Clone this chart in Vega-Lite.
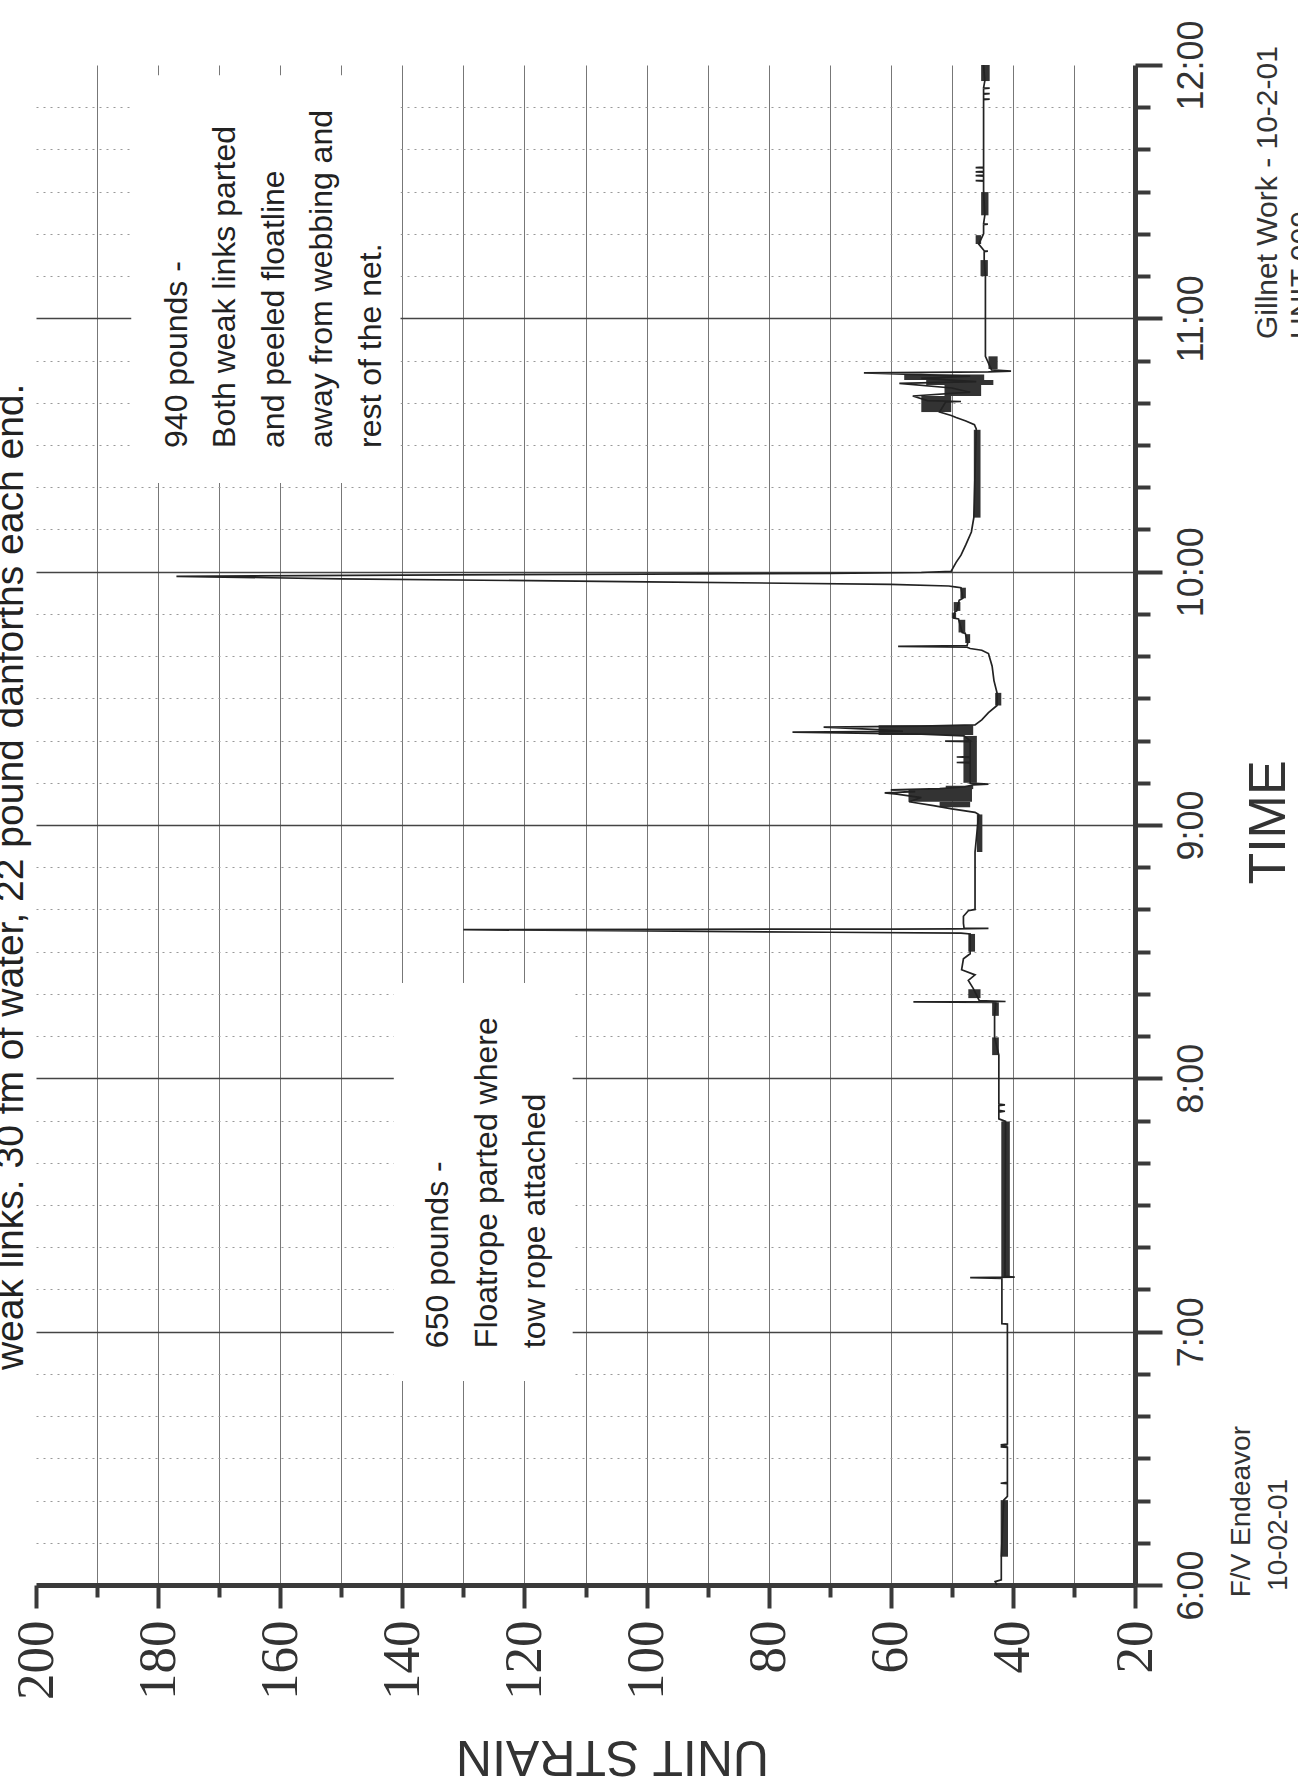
{
  "$schema": "https://vega.github.io/schema/vega-lite/v6.json",
  "width": 1099,
  "height": 1520,
  "autosize": {"type": "none"},
  "padding": {"left": 36, "top": 65, "right": 163, "bottom": 203},
  "background": "white",
  "config": {"view": {"stroke": null}, "font": "Liberation Sans"},
  "datasets": {
    "trace": [
      {"t":0,"s":42.6},{"t":0.8,"s":42.9},{"t":1.2,"s":41.9},{"t":6.7,"s":41.9},{"t":20.1,"s":41.5},{"t":21,"s":40.9},{"t":24,"s":40.9},{"t":24.1,"s":42.0},{"t":24.3,"s":40.9},{"t":32.6,"s":40.9},{"t":32.7,"s":42.0},{"t":32.9,"s":40.9},{"t":33.2,"s":42.0},{"t":33.4,"s":40.9},{"t":59.5,"s":40.9},{"t":61.8,"s":40.9},{"t":61.9,"s":41.8},{"t":72.4,"s":41.8},{"t":72.6,"s":41.8},{"t":72.8,"s":47.0},{"t":72.9,"s":39.7},{"t":73.1,"s":41.3},{"t":109.8,"s":41.2},{"t":110.4,"s":42.3},{"t":112.0,"s":42.3},{"t":112.2,"s":41.3},{"t":112.4,"s":42.3},{"t":113.5,"s":42.3},{"t":113.7,"s":41.3},{"t":113.9,"s":42.3},{"t":125.5,"s":42.3},{"t":129.7,"s":43.0},{"t":134.8,"s":43.0},{"t":138.0,"s":42.8},{"t":138.1,"s":56.3},{"t":138.2,"s":41.2},{"t":138.4,"s":45.5},{"t":141.3,"s":46.5},{"t":143.2,"s":47.3},{"t":144.5,"s":46.2},{"t":145.7,"s":48.4},{"t":148.3,"s":48.1},{"t":149.5,"s":47.0},{"t":154.2,"s":47.0},{"t":154.4,"s":48.5},{"t":154.6,"s":70},{"t":154.9,"s":100},{"t":155.2,"s":130},{"t":155.3,"s":95},{"t":155.35,"s":60},{"t":155.4,"s":49.5},{"t":155.5,"s":44.0},{"t":155.6,"s":48.0},{"t":156.7,"s":48.1},{"t":158.4,"s":48.1},{"t":159.7,"s":47.3},{"t":160.0,"s":46.2},{"t":173.6,"s":46.2},{"t":182.5,"s":45.6},{"t":183.0,"s":46.2},{"t":183.8,"s":50.0},{"t":184.6,"s":53},{"t":185.5,"s":57},{"t":186.5,"s":55},{"t":187.3,"s":59},{"t":187.6,"s":61.0},{"t":187.9,"s":56},{"t":188.3,"s":60},{"t":188.6,"s":52},{"t":189.0,"s":48},{"t":189.5,"s":46.5},{"t":189.7,"s":44.0},{"t":189.9,"s":47},{"t":194.7,"s":47},{"t":194.8,"s":49.2},{"t":194.9,"s":47},{"t":196.0,"s":47},{"t":196.1,"s":49.2},{"t":196.2,"s":47},{"t":199.75,"s":47},{"t":199.85,"s":51.1},{"t":199.95,"s":47},{"t":201.1,"s":48},{"t":201.5,"s":55},{"t":202.0,"s":76.1},{"t":202.2,"s":58},{"t":202.6,"s":62},{"t":203.2,"s":71.0},{"t":203.4,"s":55},{"t":203.7,"s":46.2},{"t":204.9,"s":45.1},{"t":206.6,"s":44.0},{"t":208.3,"s":42.6},{"t":211.3,"s":42.6},{"t":214.2,"s":43.1},{"t":217.6,"s":43.4},{"t":220.6,"s":44.0},{"t":221.4,"s":45.1},{"t":221.8,"s":47.0},{"t":222.1,"s":47.5},{"t":222.3,"s":58.8},{"t":222.5,"s":47.5},{"t":223.1,"s":47.4},{"t":225.4,"s":47.8},{"t":225.6,"s":48.3},{"t":228.8,"s":48.9},{"t":229.0,"s":49.7},{"t":230.5,"s":49.5},{"t":230.7,"s":49.2},{"t":233.2,"s":48.8},{"t":233.7,"s":48.2},{"t":236.2,"s":48.5},{"t":236.4,"s":49.5},{"t":236.6,"s":50.5},{"t":237.0,"s":60},{"t":237.6,"s":100},{"t":238.3,"s":150},{"t":238.9,"s":177},{"t":239.2,"s":140},{"t":239.4,"s":100},{"t":239.6,"s":70},{"t":239.8,"s":55},{"t":240.1,"s":50.1},{"t":242.2,"s":49.3},{"t":243.9,"s":48.5},{"t":246.4,"s":47.7},{"t":249.4,"s":46.8},{"t":252.8,"s":46.4},{"t":273.8,"s":46.0},{"t":274.8,"s":46.3},{"t":275.7,"s":47.7},{"t":276.5,"s":49.3},{"t":277.0,"s":50.1},{"t":277.8,"s":52},{"t":280.2,"s":51},{"t":280.3,"s":48.5},{"t":280.5,"s":54},{"t":281.6,"s":56.4},{"t":282.5,"s":47},{"t":283.5,"s":50},{"t":284.6,"s":58.6},{"t":285.0,"s":46},{"t":285.8,"s":55},{"t":286.3,"s":47},{"t":287.1,"s":64.4},{"t":287.3,"s":44},{"t":287.5,"s":40.3},{"t":287.8,"s":43.5},{"t":291,"s":44.5},{"t":310,"s":44.5},{"t":314,"s":44.7},{"t":315.8,"s":44.7},{"t":315.9,"s":44.1},{"t":316.0,"s":44.7},{"t":317.6,"s":45.6},{"t":320,"s":44.8},{"t":322.2,"s":44.8},{"t":322.3,"s":44.1},{"t":322.4,"s":44.8},{"t":324.4,"s":44.6},{"t":330,"s":44.8},{"t":332.5,"s":44.8},{"t":332.6,"s":46.1},{"t":332.7,"s":44.8},{"t":333.7,"s":44.8},{"t":333.8,"s":46.1},{"t":333.9,"s":44.8},{"t":334.6,"s":44.8},{"t":334.7,"s":46.1},{"t":334.8,"s":44.8},{"t":335.6,"s":44.8},{"t":335.7,"s":46.1},{"t":335.8,"s":44.8},{"t":351.8,"s":44.8},{"t":351.9,"s":43.8},{"t":352.0,"s":44.8},{"t":353.1,"s":44.8},{"t":353.2,"s":43.8},{"t":353.3,"s":44.8},{"t":354.4,"s":44.8},{"t":354.5,"s":43.8},{"t":354.6,"s":44.8},{"t":356.2,"s":44.6},{"t":360,"s":44.8}
    ],
    "bands": [
      {"t1":6.7,"t2":20.1,"s1":40.8,"s2":42.0},
      {"t1":72.8,"t2":109.8,"s1":40.5,"s2":41.9},
      {"t1":125.5,"t2":129.7,"s1":42.3,"s2":43.4},
      {"t1":134.8,"t2":138.0,"s1":42.3,"s2":43.4},
      {"t1":139.0,"t2":141.1,"s1":45.3,"s2":47.3},
      {"t1":150.0,"t2":154.2,"s1":46.2,"s2":47.3},
      {"t1":173.6,"t2":182.5,"s1":45.0,"s2":45.9},
      {"t1":184.2,"t2":185.5,"s1":47.0,"s2":52.0},
      {"t1":185.5,"t2":188.5,"s1":46.7,"s2":57.1},
      {"t1":188.5,"t2":189.3,"s1":46.5,"s2":51.0},
      {"t1":190.0,"t2":201.1,"s1":45.9,"s2":48.1},
      {"t1":201.3,"t2":203.6,"s1":46.5,"s2":62.0},
      {"t1":208.3,"t2":211.3,"s1":41.9,"s2":42.9},
      {"t1":223.1,"t2":225.2,"s1":47.0,"s2":47.8},
      {"t1":225.6,"t2":228.6,"s1":47.8,"s2":48.9},
      {"t1":229.0,"t2":230.3,"s1":49.3,"s2":50.0},
      {"t1":230.7,"t2":232.8,"s1":48.6,"s2":49.7},
      {"t1":233.7,"t2":236.2,"s1":47.7,"s2":48.6},
      {"t1":252.8,"t2":273.6,"s1":45.3,"s2":46.4},
      {"t1":277.8,"t2":281.6,"s1":50.1,"s2":55.0},
      {"t1":281.6,"t2":284.2,"s1":45.2,"s2":51.2},
      {"t1":284.2,"t2":285.4,"s1":43.2,"s2":54.2},
      {"t1":285.4,"t2":286.7,"s1":44.7,"s2":57.8},
      {"t1":288.0,"t2":291.0,"s1":42.5,"s2":44.0},
      {"t1":310.0,"t2":313.8,"s1":44.1,"s2":45.3},
      {"t1":317.6,"t2":319.7,"s1":45.2,"s2":46.1},
      {"t1":324.4,"t2":329.9,"s1":44.0,"s2":45.2},
      {"t1":356.2,"t2":360.0,"s1":43.8,"s2":45.2}
    ],
    "boxes": [
      {"t1":261.0,"t2":357.6,"s1":140.3,"s2":184.4},
      {"t1":48.3,"t2":142.6,"s1":112.1,"s2":141.4}
    ],
    "notes": [
      {"kind":"title","txt":"weak links.  30 fm of water,  22 pound danforths each end.","s":202.2,"t":50.9},
      {"kind":"note","txt":"940 pounds -\nBoth weak links parted\nand peeled floatline\naway from webbing and\nrest of the net.","s":175.3,"t":269.3},
      {"kind":"note","txt":"650 pounds -\nFloatrope parted where\ntow rope attached","s":132.5,"t":56.1},
      {"kind":"unit","txt":"Gillnet Work  -  10-2-01\nUNIT  009","s":-3.26,"t":295.1},
      {"kind":"vessel","txt":"F/V Endeavor","s":1.17,"t":-2.9},
      {"kind":"vessel","txt":"10-02-01","s":-4.9,"t":-1.4}
    ]
  },
  "layer": [
    {
      "data": {"name": "boxes"},
      "mark": {"type": "rect", "fill": "white", "stroke": null},
      "encoding": {
        "x": {
          "field": "s1", "type": "quantitative", "title": "UNIT STRAIN",
          "scale": {"domain": [20, 200], "reverse": true, "nice": false, "zero": false},
          "axis": {
            "orient": "bottom",
            "values": [20,30,40,50,60,70,80,90,100,110,120,130,140,150,160,170,180,190,200],
            "labelExpr": "datum.value % 20 === 0 ? datum.label : ''",
            "labelAngle": -90, "labelAlign": "right", "labelBaseline": "middle",
            "labelFont": "Liberation Sans Narrow", "labelFontSize": 53, "labelColor": "#333",
            "labelPadding": 12, "labelOverlap": false, "labelFlush": false, "labelBound": false,
            "tickSize": {"condition": {"test": "datum.value % 20 === 0", "value": 23}, "value": 12},
            "tickWidth": 4, "tickColor": "#3a3a3a",
            "domainColor": "#3a3a3a", "domainWidth": 5,
            "grid": true, "gridColor": "#777", "gridWidth": 1,
            "gridOpacity": {"condition": {"test": "datum.value === 200 || datum.value === 20", "value": 0}, "value": 1},
            "titleFont": "Liberation Sans", "titleFontSize": 50, "titleFontWeight": "normal", "titleColor": "#333",
            "titleAngle": 180, "titleX": 576, "titleY": 170, "titleAlign": "center", "titleBaseline": "middle"
          }
        },
        "x2": {"field": "s2"},
        "y": {
          "field": "t1", "type": "quantitative", "title": "TIME",
          "scale": {"domain": [0, 360], "nice": false, "zero": false},
          "axis": {
            "orient": "right",
            "values": [0,10,20,30,40,50,60,70,80,90,100,110,120,130,140,150,160,170,180,190,200,210,220,230,240,250,260,270,280,290,300,310,320,330,340,350,360],
            "labelExpr": "datum.value % 60 === 0 ? (6 + datum.value / 60) + ':00' : ''",
            "labelAngle": -90, "labelAlign": "center", "labelBaseline": "top",
            "labelFont": "Liberation Sans", "labelFontSize": 36, "labelColor": "#333",
            "labelPadding": 12, "labelOverlap": false, "labelFlush": false, "labelBound": false,
            "tickSize": {"condition": {"test": "datum.value % 60 === 0", "value": 27}, "value": 15},
            "tickWidth": 4, "tickColor": "#3a3a3a",
            "domainColor": "#3a3a3a", "domainWidth": 5,
            "grid": true,
            "gridColor": {"condition": {"test": "datum.value % 60 === 0", "value": "#444"}, "value": "#999"},
            "gridDash": {"condition": {"test": "datum.value % 60 === 0", "value": [1, 0]}, "value": [2, 5]},
            "gridWidth": {"condition": {"test": "datum.value % 60 === 0", "value": 1.3}, "value": 1},
            "gridOpacity": {"condition": {"test": "datum.value === 360 || datum.value === 0", "value": 0}, "value": 1},
            "titleFont": "Liberation Sans", "titleFontSize": 52, "titleFontWeight": "normal", "titleColor": "#333",
            "titleAngle": 270, "titleX": 133, "titleY": 757, "titleAlign": "center", "titleBaseline": "middle"
          }
        },
        "y2": {"field": "t2"}
      }
    },
    {
      "data": {"name": "bands"},
      "mark": {"type": "rect", "fill": "#333", "stroke": null},
      "encoding": {
        "x": {"field": "s1", "type": "quantitative", "title": "UNIT STRAIN", "scale": {"domain": [20, 200], "reverse": true, "nice": false, "zero": false}},
        "x2": {"field": "s2"},
        "y": {"field": "t1", "type": "quantitative", "title": "TIME", "scale": {"domain": [0, 360], "nice": false, "zero": false}},
        "y2": {"field": "t2"}
      }
    },
    {
      "data": {"name": "trace"},
      "mark": {"type": "line", "color": "#222", "strokeWidth": 1.7},
      "encoding": {
        "x": {"field": "s", "type": "quantitative", "title": "UNIT STRAIN", "scale": {"domain": [20, 200], "reverse": true, "nice": false, "zero": false}},
        "y": {"field": "t", "type": "quantitative", "title": "TIME", "scale": {"domain": [0, 360], "nice": false, "zero": false}},
        "order": {"field": "t", "type": "quantitative"}
      }
    },
    {
      "data": {"name": "notes"},
      "transform": [{"filter": "datum.kind === 'note'"}],
      "mark": {"type": "text", "angle": 270, "align": "left", "baseline": "alphabetic", "fontSize": 32, "lineHeight": 48.5, "lineBreak": "\n", "font": "Liberation Sans", "fill": "#222"},
      "encoding": {
        "x": {"field": "s", "type": "quantitative", "title": "UNIT STRAIN", "scale": {"domain": [20, 200], "reverse": true, "nice": false, "zero": false}},
        "y": {"field": "t", "type": "quantitative", "title": "TIME", "scale": {"domain": [0, 360], "nice": false, "zero": false}},
        "text": {"field": "txt", "type": "nominal"}
      }
    },
    {
      "data": {"name": "notes"},
      "transform": [{"filter": "datum.kind === 'title'"}],
      "mark": {"type": "text", "angle": 270, "align": "left", "baseline": "alphabetic", "fontSize": 39, "font": "Liberation Sans", "fill": "#222"},
      "encoding": {
        "x": {"field": "s", "type": "quantitative", "title": "UNIT STRAIN", "scale": {"domain": [20, 200], "reverse": true, "nice": false, "zero": false}},
        "y": {"field": "t", "type": "quantitative", "title": "TIME", "scale": {"domain": [0, 360], "nice": false, "zero": false}},
        "text": {"field": "txt", "type": "nominal"}
      }
    },
    {
      "data": {"name": "notes"},
      "transform": [{"filter": "datum.kind === 'unit'"}],
      "mark": {"type": "text", "angle": 270, "align": "left", "baseline": "alphabetic", "fontSize": 30, "lineHeight": 34, "lineBreak": "\n", "font": "Liberation Sans", "fill": "#333"},
      "encoding": {
        "x": {"field": "s", "type": "quantitative", "title": "UNIT STRAIN", "scale": {"domain": [20, 200], "reverse": true, "nice": false, "zero": false}},
        "y": {"field": "t", "type": "quantitative", "title": "TIME", "scale": {"domain": [0, 360], "nice": false, "zero": false}},
        "text": {"field": "txt", "type": "nominal"}
      }
    },
    {
      "data": {"name": "notes"},
      "transform": [{"filter": "datum.kind === 'vessel'"}],
      "mark": {"type": "text", "angle": 270, "align": "left", "baseline": "alphabetic", "fontSize": 28, "font": "Liberation Sans", "fill": "#333"},
      "encoding": {
        "x": {"field": "s", "type": "quantitative", "title": "UNIT STRAIN", "scale": {"domain": [20, 200], "reverse": true, "nice": false, "zero": false}},
        "y": {"field": "t", "type": "quantitative", "title": "TIME", "scale": {"domain": [0, 360], "nice": false, "zero": false}},
        "text": {"field": "txt", "type": "nominal"}
      }
    }
  ]
}
